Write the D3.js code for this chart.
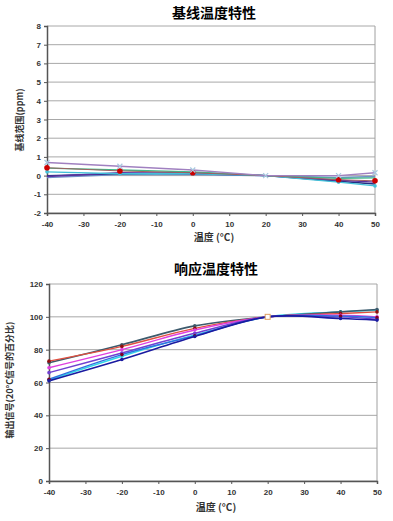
<!DOCTYPE html>
<html><head><meta charset="utf-8">
<script src="https://cdn.jsdelivr.net/npm/d3@7"></script>
<style>
body{margin:0;background:#fff;}
svg{display:block;}
</style></head>
<body>
<svg id="c" width="393" height="521"></svg>
<script>
const temps = [-40, -20, 0, 20, 40, 50];
const xTicks = [-40,-30,-20,-10,0,10,20,30,40,50];
const topYTicks = [-2,-1,0,1,2,3,4,5,6,7,8];
const botYTicks = [0,20,40,60,80,100,120];

// 基线温度特性 (ppm)
const baseA = [0.7, 0.5, 0.3, 0, 0, 0.15];      // purple, x markers
const baseB = [0.42, 0.25, 0.15, 0, -0.22, -0.28]; // red circles
const baseC = [0.4, 0.3, 0.2, 0, -0.15, -0.12];  // green
const baseD = [0.2, 0.1, 0.1, 0, -0.35, -0.55];  // cyan
const baseE = [0.0, 0.1, 0.15, 0, -0.3, -0.45];  // navy
const baseF = [-0.05, 0.15, 0.1, 0, -0.25, -0.35]; // violet
const baseG = [-0.1, 0.05, 0.05, 0, -0.1, -0.05]; // steel blue

// 响应温度特性 (%)
const respA = [73, 82, 93, 100, 102, 103];  // red
const respB = [72, 83, 94.5, 100, 103, 104.5]; // slate
const respC = [69, 80, 92, 100, 101, 100];   // magenta
const respD = [66, 78, 90, 100, 100, 98.5];  // violet
const respE = [61, 74, 88, 100, 99, 98];     // navy
const respF = [61.5, 76, 89, 100, 103, 104]; // cyan
const respG = [62, 77, 88.5, 100, 100.5, 99.5]; // blue

const svg = d3.select('#c');
const tickFont = 'Liberation Sans, Arial, sans-serif';
const cjk = '"Noto Sans CJK SC", sans-serif';

function chart(opts){
  const {title, titleY, left, right, top, bottom, yDomain, yTicks, series, curve, yTitle, yTitleX, yTitleY, xlabY, xTitleY, refMark} = opts;
  const x = d3.scaleLinear().domain([-40,50]).range([left,right]);
  const y = d3.scaleLinear().domain(yDomain).range([bottom,top]);
  const g = svg.append('g');
  g.append('text').attr('x',(left+right)/2 + 3).attr('y',titleY).attr('text-anchor','middle')
    .attr('font-family',cjk).attr('font-weight','bold').attr('font-size',14).text(title);
  g.selectAll('.gr').data(yTicks).enter().append('line')
    .attr('x1',left).attr('x2',right).attr('y1',d=>y(d)).attr('y2',d=>y(d))
    .attr('stroke','#a8a8a8').attr('stroke-width',1);
  g.append('line').attr('x1',right).attr('x2',right).attr('y1',top).attr('y2',bottom).attr('stroke','#a0a0a0');
  const fmt = d=>String(d);
  const ya = d3.axisLeft(y).tickValues(yTicks).tickSize(3).tickFormat(fmt);
  const yg = g.append('g').attr('transform',`translate(${left},0)`).call(ya);
  const xa = d3.axisBottom(x).tickValues(xTicks).tickSize(3).tickFormat(fmt);
  const xg = g.append('g').attr('transform',`translate(0,${bottom})`).call(xa);
  [yg,xg].forEach(a=>{
    a.select('.domain').attr('stroke','#555').attr('stroke-width',1.5);
    a.selectAll('.tick line').attr('stroke','#555');
    a.selectAll('text').attr('font-family',tickFont).attr('font-size',8).attr('font-weight','bold').attr('fill','#333');
  });
  yg.selectAll('text').attr('x',-6);
  xg.selectAll('text').attr('y',xlabY - bottom).attr('dy','0.35em');
  g.append('text').attr('x',(left+right)/2 + 3).attr('y',xTitleY).attr('text-anchor','middle')
    .attr('font-family',cjk).attr('font-size',10).attr('font-weight','bold').attr('fill','#333').text('温度 (°C)');
  g.append('text').attr('transform',`translate(${yTitleX},${yTitleY}) rotate(-90)`).attr('text-anchor','middle')
    .attr('font-family',cjk).attr('font-size',9).attr('font-weight','bold').attr('fill','#333').text(yTitle);
  const line = d3.line().x((d,i)=>x(temps[i])).y(d=>y(d)).curve(curve);
  series.forEach(s=>{
    g.append('path').attr('d',line(s.v)).attr('fill','none').attr('stroke',s.c).attr('stroke-width',s.w||1.4);
  });
  series.forEach(s=>{
    const pts = s.v.map((d,i)=>({t:temps[i],v:d})).filter(p=>!(s.skip20 && p.t===20));
    const m = g.selectAll(null).data(pts).enter();
    if(s.m==='circle'){
      m.append('circle').attr('cx',p=>x(p.t)).attr('cy',p=>y(p.v)).attr('r',2.8).attr('fill',s.mc||s.c);
    } else if(s.m==='x'){
      m.append('path').attr('d',p=>{const cx=x(p.t),cy=y(p.v);return `M${cx-2.5},${cy-2.5}L${cx+2.5},${cy+2.5}M${cx-2.5},${cy+2.5}L${cx+2.5},${cy-2.5}`;})
        .attr('stroke',s.mc||s.c).attr('stroke-width',1.2);
    } else if(s.m==='dot'){
      m.append('circle').attr('cx',p=>x(p.t)).attr('cy',p=>y(p.v)).attr('r',1.8).attr('fill',s.mc||s.c);
    }
  });
  if(refMark){
    g.append('rect').attr('x',x(20)-2.5).attr('y',y(refMark.v)-2.5).attr('width',5).attr('height',5)
      .attr('fill','#fff').attr('stroke',refMark.c).attr('stroke-width',1);
  }
}

chart({title:'基线温度特性', titleY:18, left:47, right:375, top:26, bottom:213, yDomain:[-2,8], yTicks:topYTicks,
  curve:d3.curveLinear, yTitle:'基线范围(ppm)', yTitleX:23, yTitleY:120, xlabY:224, xTitleY:241,
  series:[
    {v:baseG,c:'#7090c8'},
    {v:baseE,c:'#203080'},
    {v:baseF,c:'#5a30a0'},
    {v:baseD,c:'#40c0d8',m:'dot',skip20:true},
    {v:baseC,c:'#40b888'},
    {v:baseB,c:'#a06060',m:'circle',mc:'#cc0000',w:1,skip20:true},
    {v:baseA,c:'#a080c0',m:'x',mc:'#a8c8e0'}
  ]});

chart({title:'响应温度特性', titleY:274, left:49, right:377, top:284, bottom:481, yDomain:[0,120], yTicks:botYTicks,
  curve:d3.curveCatmullRom.alpha(0.5), yTitle:'输出信号(20°C信号的百分比)', yTitleX:13, yTitleY:380, xlabY:492, xTitleY:511,
  refMark:{v:respA[3], c:'#e0a060'},
  series:[
    {v:respF,c:'#30d8e8',m:'dot',skip20:true},
    {v:respB,c:'#3c5a6c',m:'dot',w:1.6,skip20:true},
    {v:respA,c:'#e05040',m:'dot',mc:'#901010',skip20:true},
    {v:respC,c:'#e040e0',m:'dot',skip20:true},
    {v:respD,c:'#7040d0',m:'dot',skip20:true},
    {v:respG,c:'#3070e0',m:'dot',mc:'#800020',skip20:true},
    {v:respE,c:'#1a1aa0',m:'dot',w:1.6,skip20:true}
  ]});
</script>
</body></html>
